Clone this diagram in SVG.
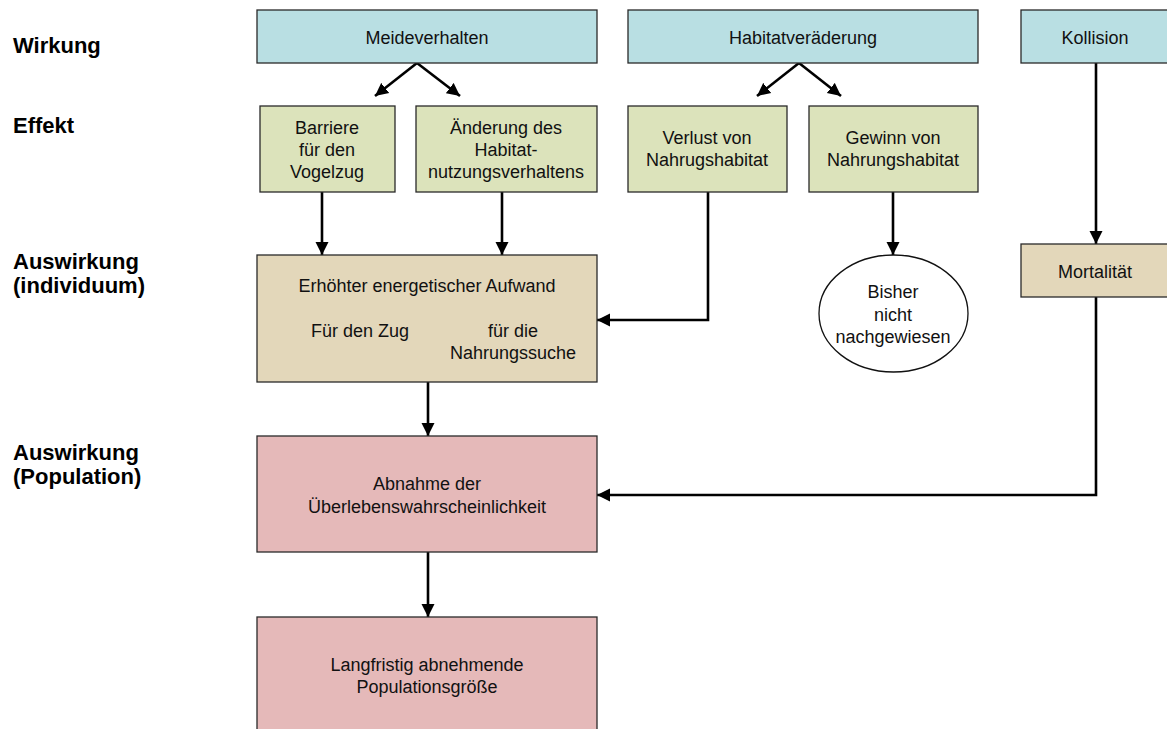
<svg xmlns="http://www.w3.org/2000/svg" width="1167" height="729" viewBox="0 0 1167 729">
<style>
.box{stroke:#2a2a2a;stroke-width:1.3}
.w{fill:#b9dfe3}
.e{fill:#dce3bb}
.a{fill:#e3d7ba}
.p{fill:#e5b9b9}
.t{font-family:"Liberation Sans",Arial,sans-serif;font-size:18px;fill:#111;text-anchor:middle}
.h{font-family:"Liberation Sans",Arial,sans-serif;font-size:22px;font-weight:bold;fill:#000}
.c{fill:none;stroke:#000;stroke-width:2.6;marker-end:url(#ah)}
</style>
<defs>
<marker id="ah" markerUnits="userSpaceOnUse" markerWidth="14" markerHeight="14" refX="13" refY="7" orient="auto">
<path d="M0,0.5 L13,7 L0,13.5 z" fill="#000"/>
</marker>
</defs>
<rect width="1167" height="729" fill="#fff"/>
<g id="labels">
<text class="h" x="13" y="53">Wirkung</text>
<text class="h" x="13" y="133">Effekt</text>
<text class="h" x="13" y="269">Auswirkung</text>
<text class="h" x="13" y="293">(individuum)</text>
<text class="h" x="13" y="460">Auswirkung</text>
<text class="h" x="13" y="484">(Population)</text>
</g>
<g id="connectors">
<path class="c" d="M417,63 L375,96"/>
<path class="c" d="M417,63 L460,96"/>
<path class="c" d="M799,63 L757,96"/>
<path class="c" d="M799,63 L841,96"/>
<path class="c" d="M322,192 V255"/>
<path class="c" d="M502,192 V255"/>
<path class="c" d="M708,192 V320 H597"/>
<path class="c" d="M893,192 V255"/>
<path class="c" d="M1096,63 V244"/>
<path class="c" d="M1096,297 V495 H597"/>
<path class="c" d="M428,382 V436"/>
<path class="c" d="M428,552 V617"/>
</g>
<g id="meideverhalten">
<rect class="box w" x="257" y="10" width="340" height="53"/>
<text class="t" x="427" y="44">Meideverhalten</text>
</g>
<g id="habitatveraenderung">
<rect class="box w" x="628" y="10" width="350" height="53"/>
<text class="t" x="803" y="44">Habitatveräderung</text>
</g>
<g id="kollision">
<rect class="box w" x="1021" y="10" width="150" height="53"/>
<text class="t" x="1095" y="44">Kollision</text>
</g>
<g id="barriere">
<rect class="box e" x="260" y="106" width="135" height="86"/>
<text class="t" x="327" y="134">Barriere</text>
<text class="t" x="327" y="156">für den</text>
<text class="t" x="327" y="178">Vogelzug</text>
</g>
<g id="aenderung">
<rect class="box e" x="416" y="106" width="181" height="86"/>
<text class="t" x="506" y="134">Änderung des</text>
<text class="t" x="506" y="156">Habitat-</text>
<text class="t" x="506" y="178">nutzungsverhaltens</text>
</g>
<g id="verlust">
<rect class="box e" x="628" y="106" width="159" height="86"/>
<text class="t" x="707" y="144">Verlust von</text>
<text class="t" x="707" y="166">Nahrugshabitat</text>
</g>
<g id="gewinn">
<rect class="box e" x="809" y="106" width="169" height="86"/>
<text class="t" x="893" y="144">Gewinn von</text>
<text class="t" x="893" y="166">Nahrungshabitat</text>
</g>
<g id="aufwand">
<rect class="box a" x="257" y="255" width="340" height="127"/>
<text class="t" x="427" y="292">Erhöhter energetischer Aufwand</text>
<text class="t" x="360" y="337">Für den Zug</text>
<text class="t" x="513" y="337">für die</text>
<text class="t" x="513" y="359">Nahrungssuche</text>
</g>
<g id="bisher">
<ellipse cx="893.5" cy="313.5" rx="74.5" ry="58.5" fill="#fff" stroke="#111" stroke-width="1.3"/>
<text class="t" x="893" y="298">Bisher</text>
<text class="t" x="893" y="321">nicht</text>
<text class="t" x="893" y="343">nachgewiesen</text>
</g>
<g id="mortalitaet">
<rect class="box a" x="1021" y="244" width="150" height="53"/>
<text class="t" x="1095" y="278">Mortalität</text>
</g>
<g id="abnahme">
<rect class="box p" x="257" y="436" width="340" height="116"/>
<text class="t" x="427" y="490">Abnahme der</text>
<text class="t" x="427" y="513">Überlebenswahrscheinlichkeit</text>
</g>
<g id="langfristig">
<rect class="box p" x="257" y="617" width="340" height="125"/>
<text class="t" x="427" y="671">Langfristig abnehmende</text>
<text class="t" x="427" y="693">Populationsgröße</text>
</g>
</svg>
